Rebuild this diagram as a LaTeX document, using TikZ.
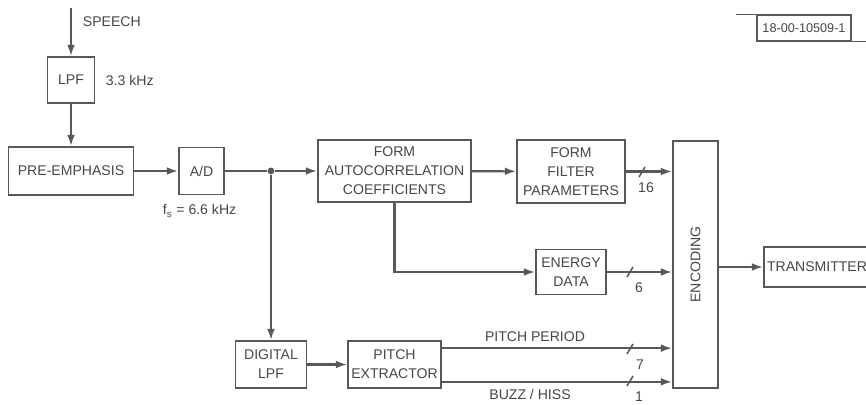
\documentclass[tikz,border=0pt]{standalone}
\usepackage{fontspec}
\setmainfont{Liberation Sans}
\usetikzlibrary{arrows.meta}
\definecolor{ink}{RGB}{88,88,88}
\definecolor{txt}{RGB}{70,70,70}
\tikzset{
  vblock/.style={draw=ink,line width=1.2pt,text=txt,align=center,inner sep=1pt,
    font=\fontsize{10}{13.5}\selectfont},
  vline/.style={ink,line width=1.5pt},
  varrow/.style={vline,-{Latex[length=8pt,width=5.5pt]}},
  vlabel/.style={text=txt,font=\fontsize{10}{12}\selectfont},
  vdot/.style={circle,fill=ink,inner sep=1.7pt},
  vbus/.style={ink,line width=1.1pt},
}
\begin{document}
\begin{tikzpicture}[x=0.025cm,y=-0.025cm]
  \useasboundingbox (0,0) rectangle (866,405);
  % ---- input chain ----
  \coordinate (speech) at (71,8);
  \node[vblock,minimum width=1.175cm,minimum height=1.15cm] (lpf) at (71,80) {LPF};
  \node[vblock,minimum width=3.125cm,minimum height=1.2cm] (pre) at (71,171) {PRE-EMPHASIS};
  \node[vblock,minimum width=1.125cm,minimum height=1.175cm] (ad) at (201.5,171) {A/D};
  \node[vlabel,anchor=west] (speechlbl) at (78,22) {SPEECH};
  \node[vlabel,anchor=west] (cutoff) at (101,80) {3.3 kHz};
  \node[vlabel,anchor=west] (fs) at (158,211) {f\textsubscript{s} = 6.6 kHz};
  \draw[varrow] (speech) -- (lpf.north);
  \draw[varrow] (lpf) -- (pre);
  \draw[varrow] (pre) -- (ad);
  % ---- analysis ----
  \node[vdot] (tap) at (271,171) {};
  \node[vblock,minimum width=3.825cm,minimum height=1.55cm] (acf) at (394.5,171)
    {FORM\\AUTOCORRELATION\\COEFFICIENTS};
  \node[vblock,minimum width=2.7cm,minimum height=1.575cm] (ffp) at (571,171.5)
    {FORM\\FILTER\\PARAMETERS};
  \node[vblock,minimum width=1.75cm,minimum height=1.125cm] (energy) at (571,272)
    {ENERGY\\DATA};
  \node[vblock,minimum width=1.775cm,minimum height=1.175cm] (dlpf) at (271,364.5)
    {DIGITAL\\LPF};
  \node[vblock,minimum width=2.325cm,minimum height=1.175cm] (pitch) at (394.5,364.5)
    {PITCH\\EXTRACTOR};
  \draw[vline] (ad) -- (tap);
  \draw[varrow] (tap) -- (acf);
  \draw[varrow] (tap) -- (dlpf);
  \draw[varrow] (acf) -- (ffp);
  \draw[varrow] (acf.south) |- (energy.west);
  \draw[varrow] (dlpf) -- (pitch);
  % ---- encoding and output ----
  \node[vblock,minimum width=1.125cm,minimum height=6.175cm] (enc) at (695.5,264.5) {};
  \node[vlabel,rotate=90] (enclbl) at (enc) {ENCODING};
  \node[vblock,minimum width=2.65cm,minimum height=1.0cm] (tx) at (817,267) {TRANSMITTER};
  \coordinate (pp) at ([yshift=-0.2cm]pitch.north east);
  \coordinate (bh) at ([yshift=0.175cm]pitch.south east);
  \draw[varrow] (ffp.east) -- (ffp.east -| enc.west);
  \draw[varrow] (energy.east) -- (energy.east -| enc.west);
  \draw[varrow] (pp) -- (pp -| enc.west);
  \draw[varrow] (bh) -- (bh -| enc.west);
  \draw[varrow] (tx.west -| enc.east) -- (tx.west);
  \node[vlabel] (pplbl) at (535,337) {PITCH PERIOD};
  \node[vlabel] (bhlbl) at (530,394) {BUZZ / HISS};
  \foreach \bx/\by/\lx/\bn in {642/172/646/16,630/272/639/6,630/349/640/7,630/381/639/1} {
    \draw[vbus] (\bx,\by) ++(-3,5) -- ++(6,-10);
    \node[vlabel] at (\lx,\by+16) {\bn};}
  % ---- drawing number ----
  \node[vblock,font=\fontsize{9}{10}\selectfont,line width=0.8pt,
    minimum width=2.35cm,minimum height=0.65cm] (tag) at (804,28) {18-00-10509-1};
  \coordinate (tagl) at ([xshift=-0.5cm]tag.north west);
  \coordinate (tagr) at ([xshift=0.5cm]tag.south east);
  \draw[ink,line width=0.8pt] (tagl) -- (tag.north west);
  \draw[ink,line width=0.8pt] (tag.south east) -- (tagr);
\end{tikzpicture}
\end{document}
